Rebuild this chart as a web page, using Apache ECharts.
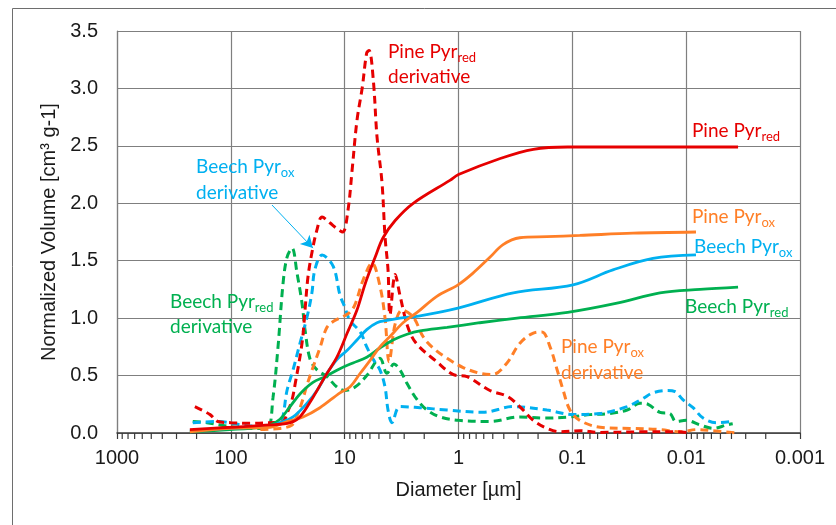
<!DOCTYPE html>
<html><head><meta charset="utf-8">
<script src="https://cdn.jsdelivr.net/npm/echarts@6/dist/echarts.min.js"></script>
<style>html,body{margin:0;padding:0;background:#fff}#c{width:836px;height:525px}</style>
</head><body><div id="c"></div>
<script>
// ---- data (diameter in µm, normalized volume in cm³ g-1) ----
const xTickLabels = ['1000','100','10','1','0.1','0.01','0.001'];
const yTickLabels = ['0.0','0.5','1.0','1.5','2.0','2.5','3.0','3.5'];

const pineRedD = [229,100,45,30,24.7,19,14.9,11.7,9.5,7.8,6.6,5.4,4.6,3.6,2.5,1.19,1,0.43,0.22,0.11,0.0035];
const pineRedV = [0.03,0.05,0.07,0.09,0.14,0.31,0.49,0.66,0.87,1.07,1.3,1.53,1.7,1.85,2.0,2.2,2.25,2.39,2.47,2.49,2.49];

const pineRedDerD = [207,152,130,100,68,45,34.8,32.1,29.0,27.3,23.7,22.3,21.0,19.4,17.5,15.8,13.5,11.7,10.4,9.35,8.6,7.8,7.0,6.4,6.1,5.6,5.2,4.7,4.42,4.16,4.0,3.6,3.27,2.8,2.35,1.55,1.12,0.84,0.53,0.375,0.29,0.22,0.167,0.128,0.086,0.057,0.025,0.012,0.0092];
const pineRedDerV = [0.23,0.16,0.1,0.09,0.085,0.09,0.1,0.17,0.29,0.42,0.78,1.07,1.36,1.57,1.77,1.88,1.83,1.78,1.75,1.94,2.29,2.72,3.01,3.31,3.33,3.07,2.58,2.18,1.71,1.42,1.03,1.38,1.2,0.93,0.78,0.62,0.51,0.49,0.37,0.32,0.23,0.11,0.04,0.01,0.02,0.005,0.01,0.01,0];

const pineOxD = [229,102,45,32,23.2,16.5,11.0,9.0,7.3,6.0,4.9,4.0,3.07,2.31,1.55,1.01,0.75,0.53,0.406,0.29,0.167,0.086,0.0293,0.0082];
const pineOxV = [0.01,0.04,0.05,0.1,0.14,0.22,0.35,0.4,0.52,0.63,0.75,0.84,0.96,1.05,1.19,1.29,1.39,1.53,1.64,1.7,1.71,1.72,1.74,1.75];

const pineOxDerD = [55,37,29,26.2,23.7,21.4,19.0,16.5,14.3,12.2,10.5,9.0,8.1,6.9,5.75,4.9,4.42,4.07,3.6,3.13,2.5,2.05,1.67,1.26,0.91,0.65,0.50,0.375,0.29,0.22,0.185,0.157,0.136,0.121,0.105,0.086,0.057,0.031,0.017,0.0113,0.008,0.0058,0.0035];
const pineOxDerV = [0.03,0.04,0.07,0.15,0.27,0.42,0.57,0.74,0.92,0.98,1.01,1.05,1.12,1.33,1.48,1.28,1.0,0.62,0.95,1.07,1.01,0.84,0.74,0.65,0.57,0.52,0.51,0.61,0.78,0.87,0.88,0.75,0.55,0.38,0.2,0.11,0.05,0.04,0.03,0.01,0.03,0.02,0.0];

const beechOxD = [229,102,45,37,28.4,21.4,17.5,14.3,11.7,9.5,7.8,6.4,5.2,4.25,3.27,2.18,0.99,0.33,0.0986,0.044,0.0196,0.0082];
const beechOxV = [0.02,0.04,0.06,0.09,0.14,0.26,0.37,0.52,0.64,0.72,0.81,0.9,0.96,0.98,1.0,1.02,1.09,1.22,1.29,1.42,1.52,1.55];

const beechOxDerD = [216,132,64,37,34.8,32.1,28.4,24.7,21.4,19.4,18.3,15.8,12.6,11.0,10,9.0,7.3,6.4,5.6,4.9,4.42,4.16,3.84,3.27,2.18,1.26,0.61,0.33,0.167,0.099,0.057,0.033,0.024,0.0196,0.0147,0.0125,0.0107,0.0087,0.0071,0.0054,0.004];
const beechOxDerV = [0.09,0.1,0.06,0.09,0.15,0.37,0.55,0.78,1.01,1.22,1.42,1.55,1.45,1.2,1.1,0.98,0.88,0.75,0.64,0.55,0.4,0.2,0.09,0.23,0.22,0.2,0.18,0.23,0.2,0.16,0.17,0.23,0.3,0.35,0.37,0.36,0.29,0.22,0.13,0.09,0.1];

const beechRedD = [229,102,55,45,37,30.2,24.7,19.0,14.9,11.0,8.45,6.4,4.9,3.76,2.83,2.18,1.26,0.65,0.306,0.11,0.0405,0.017,0.00755,0.0035];
const beechRedV = [0.01,0.03,0.05,0.07,0.12,0.23,0.34,0.44,0.49,0.56,0.61,0.66,0.74,0.81,0.86,0.89,0.92,0.96,1.0,1.05,1.13,1.22,1.25,1.27];

const beechRedDerD = [216,162,108,64,48,42.6,38.5,34.8,32.1,29.0,26.2,23.7,22.3,20.1,17.5,14.3,11.7,10,8.1,6.4,4.9,4.25,3.69,3.27,2.83,2.31,1.89,1.45,0.99,0.53,0.29,0.174,0.105,0.07,0.047,0.033,0.0254,0.0216,0.017,0.0139,0.0123,0.01,0.00755,0.0058,0.0044,0.0039];
const beechRedDerV = [0.1,0.09,0.06,0.04,0.04,0.31,0.75,1.3,1.53,1.61,1.39,1.13,0.9,0.64,0.55,0.49,0.4,0.37,0.4,0.5,0.65,0.52,0.6,0.55,0.43,0.29,0.2,0.14,0.11,0.1,0.14,0.13,0.14,0.16,0.17,0.2,0.26,0.25,0.18,0.17,0.1,0.11,0.07,0.04,0.07,0.08];

// arrow for "Beech Pyr_ox derivative" annotation (data coords)
const arrowFrom = [43.5, 1.985];
const arrowTo = [19.0, 1.61];

// ---- build ----
const zip = (d, v) => d.map((x, i) => [x, v[i]]);
const RED = '#e60000', ORANGE = '#ff7f27', BLUE = '#00b0f0', GREEN = '#00b050';

const minorTicks = [];
for (let e = -3; e < 3; e++) for (let m = 2; m <= 9; m++) minorTicks.push([m * Math.pow(10, e), 0]);

function line(name, d, v, color, dashed, z) {
  return {
    name, type: 'line', data: zip(d, v), showSymbol: false, smooth: 0.35,
    lineStyle: { color, width: dashed ? 3 : 2.8, type: dashed ? [8, 5] : 'solid', cap: 'butt' },
    z: z, silent: true
  };
}

const TXT = 'Lato, "Open Sans", sans-serif';
function label(x, y, main, sub, color) {
  return {
    type: 'text', x, y, silent: true, z: 100,
    style: {
      text: sub ? '{a|' + main + '}{s|' + sub + '}' : '{a|' + main + '}',
      verticalAlign: 'middle', align: 'left',
      rich: {
        a: { fontFamily: TXT, fontSize: 19, fill: color, color: color, lineHeight: 26, verticalAlign: 'middle' },
        s: { fontFamily: TXT, fontSize: 13, fill: color, color: color, lineHeight: 26, verticalAlign: 'bottom', padding: [0, 0, 1, 0] }
      }
    }
  };
}

const chart = echarts.init(document.getElementById('c'), null, { renderer: 'canvas' });
const AX = '"Liberation Sans", Arial, sans-serif';
chart.setOption({
  animation: false,
  backgroundColor: '#fff',
  grid: { left: 117, right: 36, top: 31, bottom: 92, containLabel: false },
  xAxis: {
    type: 'log', logBase: 10, min: 0.001, max: 1000, inverse: true,
    name: 'Diameter [µm]', nameLocation: 'middle', nameGap: 47,
    nameTextStyle: { fontFamily: AX, fontSize: 20, color: '#1a1a1a' },
    axisLine: { show: true, onZero: false, lineStyle: { color: '#3a3a3a', width: 1.5 } },
    axisTick: { show: true, length: 6, lineStyle: { color: '#3a3a3a', width: 1.2 } },
    axisLabel: {
      fontFamily: AX, fontSize: 20, color: '#1a1a1a', margin: 15,
      formatter: v => xTickLabels[3 - Math.round(Math.log10(v))]
    },
    splitLine: { show: true, lineStyle: { color: '#7f7f7f', width: 1.2 } }
  },
  yAxis: {
    type: 'value', min: 0, max: 3.5, interval: 0.5,
    name: 'Normalized Volume [cm³ g-1]', nameLocation: 'middle', nameGap: 57,
    nameTextStyle: { fontFamily: AX, fontSize: 20, color: '#1a1a1a' },
    axisLine: { show: true, lineStyle: { color: '#7f7f7f', width: 1.2 } },
    axisTick: { show: false },
    axisLabel: {
      fontFamily: AX, fontSize: 20, color: '#1a1a1a', margin: 19,
      formatter: v => yTickLabels[Math.round(v / 0.5)]
    },
    splitLine: { show: true, lineStyle: { color: '#7f7f7f', width: 1.2 } }
  },
  series: [
    line('Beech Pyr_red derivative', beechRedDerD, beechRedDerV, GREEN, true, 3),
    line('Beech Pyr_ox derivative', beechOxDerD, beechOxDerV, BLUE, true, 3),
    line('Pine Pyr_ox derivative', pineOxDerD, pineOxDerV, ORANGE, true, 3),
    line('Pine Pyr_red derivative', pineRedDerD, pineRedDerV, RED, true, 3),
    line('Beech Pyr_red', beechRedD, beechRedV, GREEN, false, 4),
    line('Beech Pyr_ox', beechOxD, beechOxV, BLUE, false, 4),
    line('Pine Pyr_ox', pineOxD, pineOxV, ORANGE, false, 4),
    line('Pine Pyr_red', pineRedD, pineRedV, RED, false, 5),
    {
      type: 'line', data: [], silent: true,
      markLine: {
        silent: true, symbol: ['none', 'arrow'], symbolSize: [10, 12], animation: false,
        label: { show: false },
        lineStyle: { type: 'solid', width: 1, color: BLUE },
        data: [[{ coord: arrowFrom }, { coord: arrowTo }]]
      }
    },
    {
      type: 'custom', data: minorTicks, silent: true, clip: false, z: 10,
      encode: { x: 0, y: 1 },
      renderItem: (params, api) => {
        const p = api.coord([api.value(0), 0]);
        return { type: 'line', shape: { x1: p[0], y1: p[1], x2: p[0], y2: p[1] + 6 },
          style: { stroke: '#3a3a3a', lineWidth: 1.2 } };
      }
    }
  ],
  graphic: [
    { type: 'line', silent: true, shape: { x1: 12.5, y1: 8.5, x2: 836, y2: 8.5 }, style: { stroke: '#6e6e6e', lineWidth: 1 } },
    { type: 'line', silent: true, shape: { x1: 12.5, y1: 8.5, x2: 12.5, y2: 525 }, style: { stroke: '#6e6e6e', lineWidth: 1 } },
    label(388, 52, 'Pine Pyr', 'red', RED),
    label(388, 77, 'derivative', null, RED),
    label(692, 131, 'Pine Pyr', 'red', RED),
    label(196, 167, 'Beech Pyr', 'ox', BLUE),
    label(196, 193, 'derivative', null, BLUE),
    label(170, 302, 'Beech Pyr', 'red', GREEN),
    label(170, 327, 'derivative', null, GREEN),
    label(692, 217, 'Pine Pyr', 'ox', ORANGE),
    label(694, 247, 'Beech Pyr', 'ox', BLUE),
    label(685, 307, 'Beech Pyr', 'red', GREEN),
    label(561, 347, 'Pine Pyr', 'ox', ORANGE),
    label(561, 373, 'derivative', null, ORANGE)
  ]
});
</script>
</body></html>
